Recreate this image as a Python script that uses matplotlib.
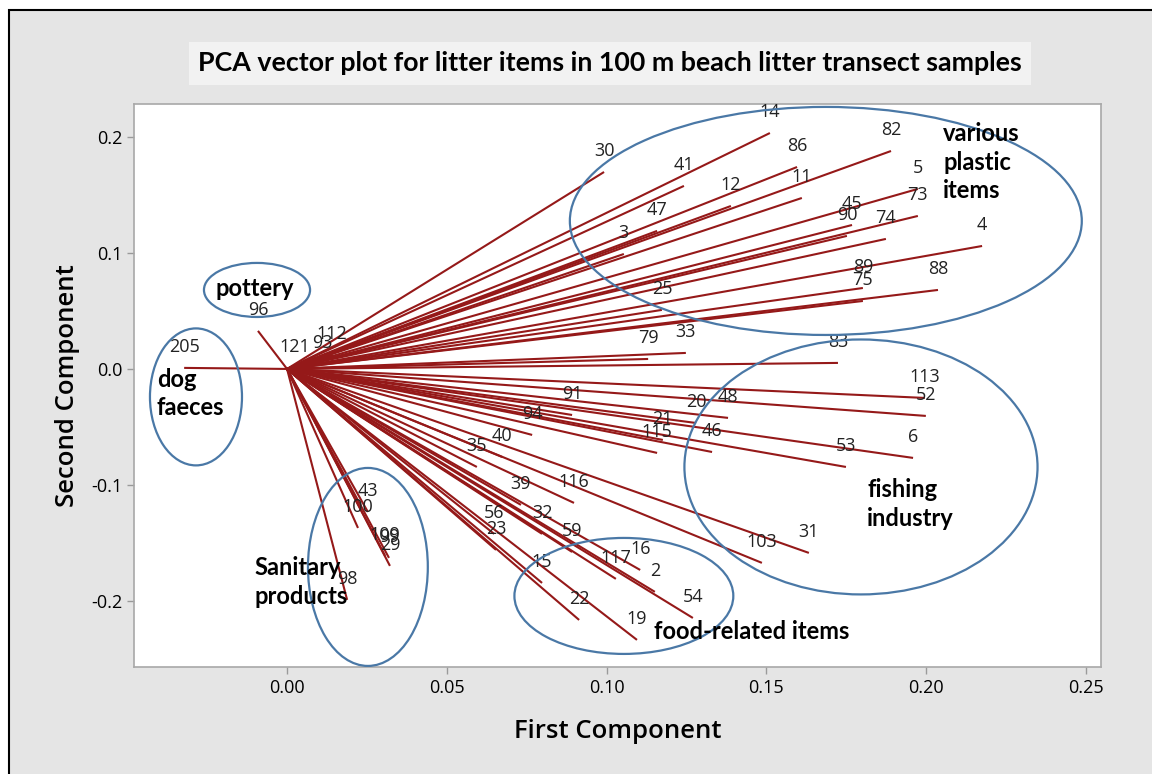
import matplotlib
matplotlib.use("Agg")
import matplotlib.pyplot as plt
from matplotlib.patches import Ellipse, Rectangle

plt.rcParams['axes.unicode_minus'] = False
plt.rcParams['font.family'] = ['Open Sans', 'DejaVu Sans']

# loadings
items = ['14', '30', '82', '86', '41', '11', '12', '5', '73', '47', '3', '45', '90', '74', '4',
         '89', '75', '88', '25', '79', '33', '83', '112', '93', '121', '96', '205',
         '113', '52', '6', '53', '48', '20', '21', '115', '46', '91', '94', '40', '35',
         '116', '39', '103', '31', '56', '23', '32', '59', '15', '22', '117', '16', '2',
         '54', '19', '43', '100', '109', '99', '29', '98']
pc1 = [0.1511, 0.0992, 0.1890, 0.1596, 0.1242, 0.1611, 0.1389, 0.1974, 0.1974, 0.1158,
       0.1054, 0.1768, 0.1752, 0.1874, 0.2175, 0.1802, 0.1802, 0.2037, 0.1173, 0.1130,
       0.1248, 0.1724, 0.0141, 0.0110, 0.0025, -0.0091, -0.0322,
       0.1996, 0.1999, 0.1959, 0.1749, 0.1380, 0.1280, 0.1176, 0.1158, 0.1330, 0.0892,
       0.0767, 0.0673, 0.0594, 0.0898, 0.0732, 0.1486, 0.1633, 0.0648, 0.0654, 0.0798,
       0.0892, 0.0798, 0.0914, 0.1029, 0.1105, 0.1151, 0.1270, 0.1095,
       0.0253, 0.0222, 0.0307, 0.0319, 0.0322, 0.0188]
pc2 = [0.2034, 0.1698, 0.1879, 0.1741, 0.1578, 0.1474, 0.1405, 0.1552, 0.1319, 0.1190,
       0.0991, 0.1241, 0.1147, 0.1121, 0.1060, 0.0698, 0.0586, 0.0681, 0.0509, 0.0086,
       0.0138, 0.0052, 0.0121, 0.0043, 0.0009, 0.0328, 0.0009,
       -0.0250, -0.0405, -0.0767, -0.0845, -0.0422, -0.0466, -0.0612, -0.0724, -0.0716,
       -0.0397, -0.0569, -0.0759, -0.0845, -0.1155, -0.1172, -0.1672, -0.1586, -0.1422,
       -0.1560, -0.1422, -0.1578, -0.1845, -0.2164, -0.1810, -0.1733, -0.1922, -0.2147,
       -0.2336, -0.1233, -0.1371, -0.1612, -0.1629, -0.1698, -0.1991]

# hand-drawn groupings: (centre x, centre y, width, height)
groups = {
    'various\nplastic\nitems': (0.1686, 0.1276, 0.1602, 0.1966),
    'fishing\nindustry': (0.1796, -0.0845, 0.1105, 0.2198),
    'food-related items': (0.1054, -0.1957, 0.0685, 0.1000),
    'Sanitary\nproducts': (0.0253, -0.1707, 0.0375, 0.1707),
    'pottery': (-0.0094, 0.0681, 0.0332, 0.0466),
    'dog\nfaeces': (-0.0285, -0.0241, 0.0288, 0.1181),
}
group_text = {
    'various\nplastic\nitems': (0.2053, 0.1784, 'left'),
    'fishing\nindustry': (0.1815, -0.1164, 'left'),
    'food-related items': (0.1148, -0.2267, 'left'),
    'Sanitary\nproducts': (-0.0103, -0.1836, 'left'),
    'pottery': (-0.0100, 0.0690, 'center'),
    'dog\nfaeces': (-0.0407, -0.0211, 'left'),
}

line_color = '#951919'
ring_color = '#4a78a6'

fig = plt.figure(figsize=(11.52, 7.74), dpi=100)
fig.patch.set_facecolor('white')
fig.add_artist(Rectangle((9 / 1152, -0.02), 1.1, 1 - 10 / 774 + 0.02,
                         transform=fig.transFigure, facecolor='#e5e5e5',
                         edgecolor='black', linewidth=1.5, zorder=-10))

ax = fig.add_axes([0.1163, 0.1382, 0.8394, 0.7274])
ax.set_facecolor('white')

for name, x, y in zip(items, pc1, pc2):
    ax.plot([0, x], [0, y], color=line_color, lw=1.5, solid_capstyle='butt', zorder=2)
    ax.annotate(name, (x, y), xytext=(0, 21), textcoords='offset pixels',
                ha='center', va='center', fontsize=13, color='#222222', zorder=3)

for name, (cx, cy, w, h) in groups.items():
    ax.add_patch(Ellipse((cx, cy), w, h, fill=False, edgecolor=ring_color, lw=1.6, zorder=4))
    tx, ty, ha = group_text[name]
    ax.text(tx, ty, name, ha=ha, va='center', fontsize=17, fontweight='bold',
            family=['Lato', 'DejaVu Sans'], linespacing=1.3, zorder=5)

ax.set_xlim(-0.0479, 0.2547)
ax.set_ylim(-0.257, 0.2284)
ax.set_xticks([0.0, 0.05, 0.10, 0.15, 0.20, 0.25])
ax.set_xticklabels(['0.00', '0.05', '0.10', '0.15', '0.20', '0.25'])
ax.set_yticks([-0.2, -0.1, 0.0, 0.1, 0.2])
ax.set_yticklabels(['-0.2', '-0.1', '0.0', '0.1', '0.2'])
ax.tick_params(labelsize=13, colors='#9a9a9a', labelcolor='black', length=5, width=1)
for s in ax.spines.values():
    s.set_color('#a8a8a8')
    s.set_linewidth(1.2)

ax.set_xlabel('First Component', fontsize=18.5, fontweight='semibold', labelpad=16)
ax.set_ylabel('Second Component', fontsize=18.5, fontweight='semibold', labelpad=8)

fig.text(0.5295, 0.918, 'PCA vector plot for litter items in 100 m beach litter transect samples',
         ha='center', va='center', fontsize=19.3, fontweight='bold',
         family=['Lato', 'DejaVu Sans'],
         bbox=dict(boxstyle='square,pad=0.35', facecolor='#f2f2f2', edgecolor='none'))

fig.savefig('out.png', dpi=100)
